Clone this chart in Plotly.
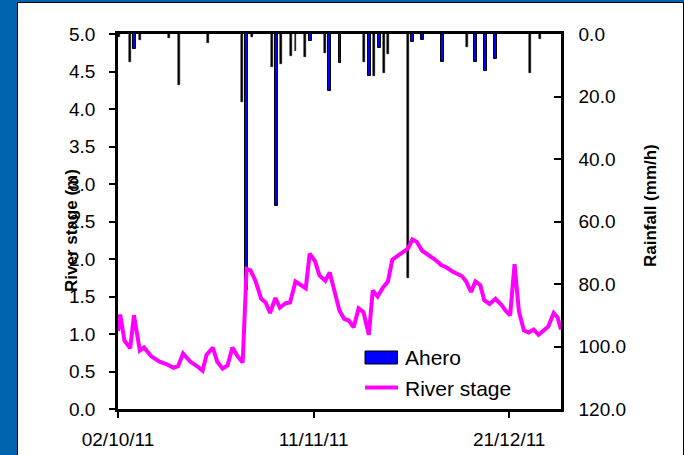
import pandas as pd
import plotly.graph_objects as go

# River stage at Ahero (m); time in days after 02/10/2011
stage_day = [0.0, 0.45, 1.33, 2.5, 3.27, 4.46, 5.32, 6.85, 8.49, 9.86, 11.35, 12.3,
             13.3, 14.8, 16.2, 17.3, 18.1, 19.4, 20.3, 21.4, 22.4, 23.4, 24.5, 25.5,
             26.3, 27.1, 28.1, 29.3, 30.2, 31.1, 32.2, 33.1, 34.3, 35.2, 36.3, 37.3,
             38.4, 39.2, 40.3, 41.2, 42.4, 43.3, 44.3, 45.3, 46.3, 47.2, 48.2, 49.2,
             50.2, 51.3, 52.1, 53.1, 54.2, 55.2, 56.1, 57.2, 58.2, 59.3, 60.2, 61.1,
             62.2, 63.6, 64.9, 66.1, 67.1, 68.5, 69.5, 70.4, 71.2, 72.2, 73.1, 74.1,
             74.9, 76.0, 77.2, 78.4, 79.4, 80.2, 81.1, 82.0, 83.0, 84.0, 85.0, 86.0,
             87.1, 88.0, 89.1, 89.9, 90.6]
stage_m = [1.04, 1.26, 0.91, 0.81, 1.25, 0.78, 0.82, 0.70, 0.63, 0.60, 0.55, 0.57,
           0.74, 0.63, 0.57, 0.51, 0.72, 0.82, 0.63, 0.54, 0.58, 0.82, 0.70, 0.62,
           1.87, 1.85, 1.71, 1.47, 1.42, 1.28, 1.48, 1.35, 1.41, 1.42, 1.70, 1.65,
           1.61, 2.07, 1.97, 1.78, 1.71, 1.82, 1.58, 1.31, 1.20, 1.18, 1.09, 1.34,
           1.29, 0.99, 1.58, 1.50, 1.62, 1.70, 1.99, 2.04, 2.10, 2.14, 2.26, 2.23,
           2.11, 2.05, 1.99, 1.92, 1.89, 1.83, 1.80, 1.77, 1.70, 1.56, 1.70, 1.65,
           1.45, 1.40, 1.47, 1.39, 1.30, 1.25, 1.93, 1.30, 1.05, 1.02, 1.06, 0.99,
           1.05, 1.10, 1.28, 1.22, 1.06]

# Rainfall intensity (mm/h); days after 02/10/2011
rain_day = [0.3, 2.5, 3.4, 4.5, 10.5, 12.4, 18.5, 25.4, 26.3, 27.4, 31.5, 32.4,
            33.4, 35.4, 36.3, 38.2, 39.3, 42.3, 43.3, 45.4, 50.4, 51.4, 52.4, 53.4,
            54.4, 55.3, 59.3, 60.3, 62.3, 66.3, 71.3, 73.2, 75.2, 77.2, 84.2, 86.3]
rain_mm = [1.1, 8.9, 4.8, 1.9, 1.2, 16.4, 3.0, 21.8, 82.0, 1.0, 10.7, 55.0,
           9.7, 7.0, 5.3, 7.4, 2.1, 6.2, 18.1, 9.2, 8.9, 13.3, 13.3, 4.6,
           12.4, 6.5, 78.0, 2.5, 1.9, 8.9, 4.3, 8.9, 11.8, 7.9, 12.4, 1.6]
# bars drawn with the full blue fill (the rest render as thin black bars)
rain_filled = [False, False, True, False, False, False, False, False, True, False, False, True,
               False, False, False, False, True, False, True, True, False, True, False, True,
               False, False, False, True, True, True, False, True, True, True, False, False]

x_ticks = ["2011-10-02", "2011-11-11", "2011-12-21"]

start = pd.Timestamp("2011-10-02")
DAY_MS = 86400000
FONT = "Arial, Liberation Sans, sans-serif"

x_stage = start + pd.to_timedelta(stage_day, unit="D")
x_rain = start + pd.to_timedelta(rain_day, unit="D")

wide_x = [x for x, f in zip(x_rain, rain_filled) if f]
wide_y = [v for v, f in zip(rain_mm, rain_filled) if f]
thin_x = [x for x, f in zip(x_rain, rain_filled) if not f]
thin_y = [v for v, f in zip(rain_mm, rain_filled) if not f]

fig = go.Figure()
fig.add_trace(go.Bar(x=thin_x, y=thin_y, yaxis="y", width=0.4 * DAY_MS,
                     marker=dict(color="black", line=dict(color="black", width=0.5)),
                     showlegend=False, name="Ahero"))
fig.add_trace(go.Bar(x=wide_x, y=wide_y, yaxis="y", width=0.6 * DAY_MS,
                     marker=dict(color="#0000FF", line=dict(color="black", width=1)),
                     showlegend=False, name="Ahero"))
fig.add_trace(go.Scatter(x=x_stage, y=stage_m, yaxis="y2", mode="lines",
                         line=dict(color="#FF00FF", width=4), showlegend=False,
                         name="River stage"))

# plot-area geometry in pixels
W, H = 684, 455
L, R, T, B = 118, 123, 34, 46
PW, PH = W - L - R, H - T - B


def px(xp):
    return (xp - L) / PW


def py(yp):
    return (H - B - yp) / PH


shapes = [
    # white card with a thin dark edge on the blue background
    dict(type="rect", xref="paper", yref="paper", layer="below",
         x0=px(17.5), x1=px(683.5), y0=py(470), y1=py(2.5),
         fillcolor="white", line=dict(color="black", width=1)),
    # legend swatches
    dict(type="rect", xref="paper", yref="paper",
         x0=px(365), x1=px(397.5), y0=py(364), y1=py(351),
         fillcolor="#0000FF", line=dict(color="black", width=1)),
    dict(type="line", xref="paper", yref="paper",
         x0=px(365), x1=px(398), y0=py(387.5), y1=py(387.5),
         line=dict(color="#FF00FF", width=4)),
]

annotations = [
    dict(text="Ahero", xref="paper", yref="paper", x=px(403), y=py(357.5),
         xanchor="left", yanchor="middle", showarrow=False,
         font=dict(family=FONT, size=21, color="black")),
    dict(text="River stage", xref="paper", yref="paper", x=px(403), y=py(388.5),
         xanchor="left", yanchor="middle", showarrow=False,
         font=dict(family=FONT, size=21, color="black")),
    dict(text="<b>River stage (m)</b>", xref="paper", yref="paper", x=px(71), y=py(231),
         textangle=-90, xanchor="center", yanchor="middle", showarrow=False,
         font=dict(family=FONT, size=17, color="black")),
    dict(text="<b>Rainfall (mm/h)</b>", xref="paper", yref="paper", x=px(650), y=py(206),
         textangle=-90, xanchor="center", yanchor="middle", showarrow=False,
         font=dict(family=FONT, size=17, color="black")),
]

tickfont = dict(family=FONT, size=19, color="black")

fig.update_layout(
    width=W, height=H,
    margin=dict(l=L, r=R, t=T, b=B, pad=0, autoexpand=False),
    paper_bgcolor="#0064AC",
    plot_bgcolor="rgba(0,0,0,0)",
    showlegend=False,
    bargap=0,
    shapes=shapes,
    annotations=annotations,
    xaxis=dict(
        type="date", automargin=False,
        range=[start, start + pd.Timedelta(days=90.6)],
        tickvals=x_ticks, tickformat="%d/%m/%y",
        ticks="outside", ticklen=6, tickwidth=1.5, tickcolor="black",
        showline=True, linecolor="black", linewidth=2.5, mirror=True,
        showgrid=False, zeroline=False, tickfont=tickfont, ticklabelstandoff=5,
    ),
    yaxis=dict(
        side="right", range=[120, 0], dtick=20, tickformat=".1f", automargin=False,
        ticks="inside", ticklen=7, tickwidth=1.5, tickcolor="black",
        showline=True, linecolor="black", linewidth=2.5,
        showgrid=False, zeroline=False, tickfont=tickfont, ticklabelstandoff=11,
    ),
    yaxis2=dict(
        side="left", overlaying="y", range=[0, 5], dtick=0.5, tickformat=".1f",
        automargin=False,
        ticks="outside", ticklen=6, tickwidth=1.5, tickcolor="black",
        showline=True, linecolor="black", linewidth=2.5,
        showgrid=False, zeroline=False, tickfont=tickfont, ticklabelstandoff=10,
    ),
)

fig.write_html("out.html")
